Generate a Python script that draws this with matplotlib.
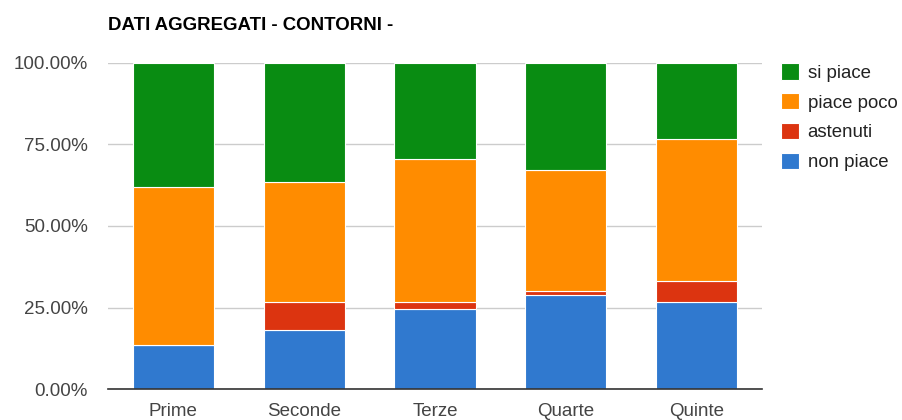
import matplotlib.pyplot as plt
import numpy as np
from matplotlib.ticker import FuncFormatter

plt.rcParams['font.family'] = ['Liberation Sans', 'DejaVu Sans']

categories = ["Prime", "Seconde", "Terze", "Quarte", "Quinte"]
non_piace = [13.5, 18.3, 24.5, 28.8, 26.6]
astenuti = [0.0, 8.3, 2.1, 1.4, 6.7]
piace_poco = [48.3, 37.0, 43.9, 36.9, 43.4]
si_piace = [38.2, 36.4, 29.5, 32.9, 23.3]

series = [
    ("non piace", non_piace, "#3079cf"),
    ("astenuti", astenuti, "#dc3410"),
    ("piace poco", piace_poco, "#ff8c00"),
    ("si piace", si_piace, "#098c12"),
]

fig = plt.figure(figsize=(9.02, 4.2), dpi=100)
ax = fig.add_axes([108 / 902, 1 - 389.3 / 420, 654 / 902, 326.6 / 420])

x = np.arange(len(categories))
bottom = np.zeros(len(categories))
handles = []
for name, vals, col in series:
    b = ax.bar(x, vals, width=0.62, bottom=bottom, color=col, edgecolor="white",
               linewidth=0.8, label=name, zorder=3)
    bottom += np.array(vals)
    handles.append(b)

ax.set_xlim(-0.5, 4.5)
ax.set_ylim(0, 100)
ax.set_yticks([0, 25, 50, 75, 100])
ax.yaxis.set_major_formatter(FuncFormatter(lambda v, p: f"{v:.2f}%"))
ax.set_xticks(x)
ax.set_xticklabels(categories)
ax.grid(axis="y", color="#cccccc", linewidth=1, zorder=0)
for s in ["top", "right", "left"]:
    ax.spines[s].set_visible(False)
ax.spines["bottom"].set_color("#333333")
ax.spines["bottom"].set_linewidth(1.2)
ax.spines["bottom"].set_zorder(4)
ax.tick_params(axis="both", length=0, labelsize=13.5, colors="#444444")
ax.tick_params(axis="y", pad=14.4)
ax.tick_params(axis="x", pad=10)

ax.text(0, 1.115, "DATI AGGREGATI - CONTORNI -", transform=ax.transAxes,
        fontsize=13.4, fontweight="bold", color="#000000", va="center", ha="left")

leg = ax.legend(handles[::-1], [s[0] for s in series[::-1]], loc="upper left",
                bbox_to_anchor=(1.017, 1.022), frameon=False, fontsize=13.4,
                handlelength=1.0, handleheight=1.0, labelspacing=0.6,
                handletextpad=0.45, borderaxespad=0)
for t in leg.get_texts():
    t.set_color("#222222")

fig.savefig("out.png", dpi=100)
